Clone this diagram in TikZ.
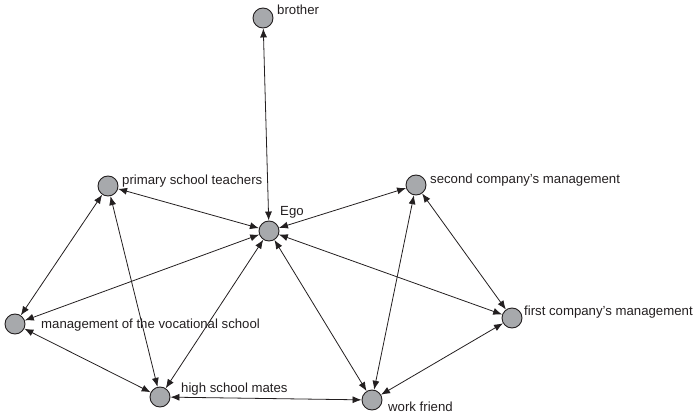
\documentclass[tikz,border=0pt]{standalone}
\usepackage{fontspec}
\setmainfont{Liberation Sans}
\usetikzlibrary{arrows.meta}
\definecolor{egogrey}{HTML}{A7A9AC}
\definecolor{egoink}{HTML}{231F20}

\begin{document}
\begin{tikzpicture}[x=1pt,y=-1pt,
  actor/.style={circle,draw=egoink,fill=egogrey,line width=0.9pt,minimum size=20pt,inner sep=0pt},
  tag/.style={anchor=west,inner sep=0pt,font=\fontsize{13.2}{14}\selectfont,text=egoink},
  tie/.style={{Latex[length=9pt,width=7pt]}-{Latex[length=9pt,width=7pt]},line width=0.8pt,draw=egoink}]
  \useasboundingbox (0,0) rectangle (696,417);
  % actors
  \node[actor] (brother) at (263,18) {};
  \node[actor] (teachers) at (108,186) {};
  \node[actor] (ego) at (269,231) {};
  \node[actor] (second) at (416,185) {};
  \node[actor] (vocational) at (15,324) {};
  \node[actor] (first) at (512,318) {};
  \node[actor] (mates) at (160,397) {};
  \node[actor] (friend) at (372,400) {};
  % names
  \node[tag] (brotherT) at (277,10) {brother};
  \node[tag] (teachersT) at (122,181) {primary school teachers};
  \node[tag] (egoT) at (280,212) {Ego};
  \node[tag] (secondT) at (430,180) {second company's management};
  \node[tag] (vocationalT) at (41,325) {management of the vocational school};
  \node[tag] (firstT) at (524,312) {first company's management};
  \node[tag] (matesT) at (181,389) {high school mates};
  \node[tag] (friendT) at (388,407) {work friend};
  % ties
  \foreach \a/\b in {brother/ego,teachers/ego,ego/second,teachers/vocational,
      teachers/mates,ego/vocational,ego/mates,ego/friend,ego/first,
      second/friend,second/first,vocational/mates,mates/friend,friend/first}
    \draw[tie] (\a) -- (\b);
\end{tikzpicture}
\end{document}
